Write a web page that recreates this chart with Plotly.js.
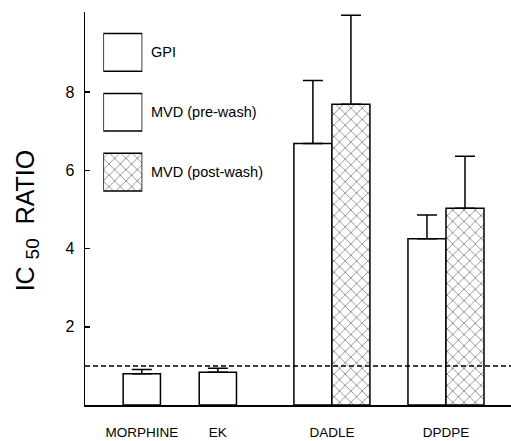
<!DOCTYPE html>
<html>
<head>
<meta charset="utf-8">
<script src="https://cdn.plot.ly/plotly-3.0.1.min.js"></script>
<style>html,body{margin:0;padding:0;background:#fff;}#chart{width:511px;height:441px;}</style>
</head>
<body>
<div id="chart"></div>
<script>
// ---- data ----
const categories = ['MORPHINE', 'EK', 'DADLE', 'DPDPE'];
const categoryPos = [1, 2, 3.5, 5];
const seriesNames = ['GPI', 'MVD (pre-wash)', 'MVD (post-wash)'];

const gpiCats = ['MORPHINE', 'EK'];
const gpiValues = [0.80, 0.84];
const gpiErrors = [0.11, 0.10];

const mvdCats = ['DADLE', 'DPDPE'];
const preWashValues = [6.69, 4.25];
const preWashErrors = [1.61, 0.61];
const postWashValues = [7.69, 5.03];
const postWashErrors = [2.28, 1.33];

const referenceRatio = 1;
const yTickValues = [2, 4, 6, 8];
const yTitle = 'IC <sub><span style="font-size:19px">50</span></sub>&nbsp;&nbsp;RATIO';

// ---- helpers ----
const pos = c => categoryPos[categories.indexOf(c)];
const FONT = 'Liberation Sans, Arial, Helvetica, sans-serif';
const zeros = a => a.map(() => 0);
const HATCH = {shape: 'x', size: 8, solidity: 0.1, fgcolor: '#000', bgcolor: '#fff'};

const errStyle = (arr) => ({
  type: 'data', symmetric: false, array: arr, arrayminus: zeros(arr),
  color: '#000', thickness: 1.5, width: 10
});

const traces = [
  {
    type: 'bar', name: seriesNames[0], x: gpiCats.map(pos), y: gpiValues,
    width: 0.49, offset: -0.245,
    marker: {color: '#fff', line: {color: '#000', width: 1.5}},
    error_y: errStyle(gpiErrors), showlegend: false
  },
  {
    type: 'bar', name: seriesNames[1], x: mvdCats.map(pos), y: preWashValues,
    width: 0.5, offset: -0.5,
    marker: {color: '#fff', line: {color: '#000', width: 1.5}},
    error_y: errStyle(preWashErrors), showlegend: false
  },
  {
    type: 'bar', name: seriesNames[2], x: mvdCats.map(pos), y: postWashValues,
    width: 0.5, offset: 0,
    marker: {color: '#fff', line: {color: '#000', width: 1.5}, pattern: HATCH},
    error_y: errStyle(postWashErrors), showlegend: false
  },
  // legend swatches drawn on a small helper axis
  {
    type: 'bar', orientation: 'h', xaxis: 'x2', yaxis: 'y2',
    y: seriesNames.map((_, i) => i), x: seriesNames.map(() => 1),
    width: 0.63, hoverinfo: 'skip', showlegend: false,
    marker: {color: '#fff', line: {color: '#000', width: 1.5},
             pattern: Object.assign({}, HATCH, {shape: ['', '', HATCH.shape]})}
  }
];

const annotations = seriesNames.map((n, i) => ({
  text: n, xref: 'paper', yref: 'y2', x: 0.150, y: i,
  xanchor: 'left', yanchor: 'middle', showarrow: false,
  font: {family: FONT, size: 14.5, color: '#000'}
}));
annotations.push({
  text: yTitle, xref: 'paper', yref: 'paper', x: -0.136, y: 0.47,
  xanchor: 'center', yanchor: 'middle', textangle: -90, showarrow: false,
  font: {family: FONT, size: 25, color: '#000'}
});

const layout = {
  width: 511, height: 441,
  margin: {l: 85, r: 0, t: 12, b: 36},
  paper_bgcolor: '#fff', plot_bgcolor: '#fff',
  barmode: 'overlay', showlegend: false,
  font: {family: FONT, color: '#000'},
  xaxis: {
    range: [0.253, 5.855], showgrid: false, zeroline: false,
    showline: true, linecolor: '#000', linewidth: 2,
    tickmode: 'array', tickvals: categoryPos, ticktext: categories,
    ticks: '', ticklabelstandoff: 14,
    tickfont: {family: FONT, size: 13.5, color: '#000'}
  },
  yaxis: {
    range: [0, 10.05], showgrid: false, zeroline: false,
    showline: true, linecolor: '#000', linewidth: 1.5,
    tickmode: 'array', tickvals: yTickValues,
    ticks: 'inside', ticklen: 5, tickwidth: 1.5, tickcolor: '#000',
    ticklabelstandoff: 6,
    tickfont: {family: FONT, size: 16, color: '#000'}
  },
  xaxis2: {domain: [0.043, 0.1345], anchor: 'y2', range: [0, 1], visible: false, fixedrange: true},
  yaxis2: {domain: [0.5165, 0.9733], anchor: 'x2', range: [2.5, -0.5], visible: false, fixedrange: true},
  shapes: [{
    type: 'line', xref: 'paper', yref: 'y', x0: 0, x1: 1, y0: referenceRatio, y1: referenceRatio,
    line: {color: '#000', width: 1.5, dash: '5px,3px'}, layer: 'above'
  }],
  annotations: annotations
};

Plotly.newPlot('chart', traces, layout, {staticPlot: true, displayModeBar: false});
</script>
</body>
</html>
